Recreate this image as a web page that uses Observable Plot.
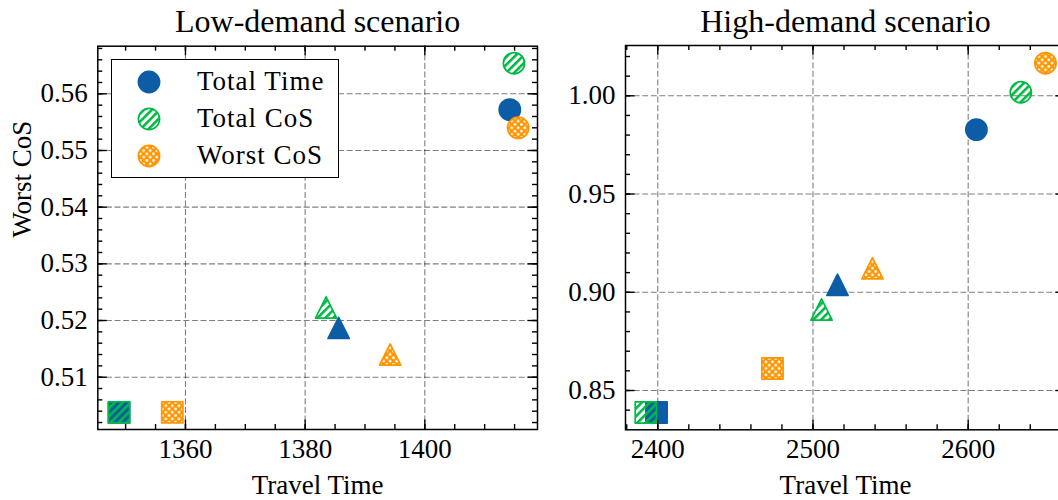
<!DOCTYPE html>
<html><head><meta charset="utf-8">
<script src="https://cdn.jsdelivr.net/npm/d3@7"></script>
<script src="https://cdn.jsdelivr.net/npm/@observablehq/plot@0.6"></script>
<style>
html,body{margin:0;padding:0;background:#fff;overflow:hidden;width:1058px;height:500px;}
#wrap{position:relative;width:1058px;height:500px;overflow:hidden;}
.panel{position:absolute;top:0;}
#legend{position:absolute;left:111px;top:59px;width:226px;height:117px;border:1.2px solid #000;background:#fff;font-family:'Liberation Serif','DejaVu Serif',serif;font-size:27px;letter-spacing:1px;}
#legend .row{position:absolute;left:0;height:30px;}
#legend svg{position:absolute;left:25px;top:3px;}
#legend span{position:absolute;left:85px;top:-1px;white-space:nowrap;line-height:30px;color:#000;}
</style></head><body>
<svg width="0" height="0" style="position:absolute">
  <defs>
    <pattern id="hatchG" patternUnits="userSpaceOnUse" width="5.6" height="5.6" patternTransform="rotate(45)">
      <rect x="0" y="0" width="2.6" height="5.6" fill="#00B945"></rect>
    </pattern>
    <pattern id="dotsO" patternUnits="userSpaceOnUse" width="6.6" height="6.6">
      <rect x="0" y="0" width="6.6" height="6.6" fill="#FF9500"></rect>
      <circle cx="0" cy="0" r="1.4" fill="#fff"></circle>
      <circle cx="6.6" cy="0" r="1.4" fill="#fff"></circle>
      <circle cx="0" cy="6.6" r="1.4" fill="#fff"></circle>
      <circle cx="6.6" cy="6.6" r="1.4" fill="#fff"></circle>
      <circle cx="3.3" cy="3.3" r="1.4" fill="#fff"></circle>
    </pattern>
  </defs>
</svg>
<div id="wrap"></div>
<script>
// ---------- data ----------
const methods = ["Total Time", "Total CoS", "Worst CoS"];
const shapes = ["circle", "triangle", "square"];

// Low-demand scenario (one value per shape: circle, triangle, square)
const lowTravel_TotalTime = [1414.2, 1385.6, 1348.9];
const lowWorst_TotalTime  = [0.5572, 0.5187, 0.5038];
const lowTravel_TotalCoS  = [1414.9, 1383.5, 1348.9];
const lowWorst_TotalCoS   = [0.5654, 0.5223, 0.5038];
const lowTravel_WorstCoS  = [1415.6, 1394.2, 1357.8];
const lowWorst_WorstCoS   = [0.5540, 0.5140, 0.5038];

// High-demand scenario
const highTravel_TotalTime = [2605.3, 2515.8, 2399.2];
const highWorst_TotalTime  = [0.9828, 0.9038, 0.8388];
const highTravel_TotalCoS  = [2633.9, 2505.5, 2392.3];
const highWorst_TotalCoS   = [1.0018, 0.8912, 0.8388];
const highTravel_WorstCoS  = [2649.8, 2538.3, 2473.9];
const highWorst_WorstCoS   = [1.0166, 0.9122, 0.8612];

// ticks
const lowXTicks = [1360, 1380, 1400];
const lowYTicks = [0.51, 0.52, 0.53, 0.54, 0.55, 0.56];
const highXTicks = [2400, 2500, 2600];
const highYTicks = [0.85, 0.90, 0.95, 1.00];

const titles = ["Low-demand scenario", "High-demand scenario"];
const xLabel = "Travel Time";
const yLabel = "Worst CoS";

// ---------- build ----------
function rows(travelArrs, worstArrs) {
  const out = [];
  methods.forEach((m, mi) => {
    shapes.forEach((s, si) => {
      out.push({method: m, shape: s, x: travelArrs[mi][si], y: worstArrs[mi][si]});
    });
  });
  return out;
}
const lowData = rows([lowTravel_TotalTime, lowTravel_TotalCoS, lowTravel_WorstCoS],
                     [lowWorst_TotalTime, lowWorst_TotalCoS, lowWorst_WorstCoS]);
const highData = rows([highTravel_TotalTime, highTravel_TotalCoS, highTravel_WorstCoS],
                      [highWorst_TotalTime, highWorst_TotalCoS, highWorst_WorstCoS]);

const FONT = "'Liberation Serif','DejaVu Serif',serif";
const sym = {
  circle: {draw(c, s) { const r = Math.sqrt(s / Math.PI); c.moveTo(r, 0); c.arc(0, 0, r, 0, 2 * Math.PI); c.closePath(); }},
  triangle: {draw(c, s) { const r = Math.sqrt(s / Math.PI); c.moveTo(0, -r); c.lineTo(r, r); c.lineTo(-r, r); c.closePath(); }},
  square: {draw(c, s) { const r = Math.sqrt(s / Math.PI); c.moveTo(-r, -r); c.lineTo(r, -r); c.lineTo(r, r); c.lineTo(-r, r); c.closePath(); }}
};
const style = {
  "Total Time": {fill: "#0C5DA5", stroke: "#0C5DA5"},
  "Total CoS": {fill: "url(#hatchG)", stroke: "#00B945"},
  "Worst CoS": {fill: "url(#dotsO)", stroke: "#FF9500"}
};

function panel(opts) {
  const {data, width, ml, mr, mt, mb, xDomain, yDomain, xTicks, yTicks, xMinor, yMinor, title, yFormat, showYLabel} = opts;
  const H = 500 - mt - mb, W = width - ml - mr;
  const tk = {stroke: "#000", strokeWidth: 1.4};
  const marks = [
    Plot.gridX(xTicks, {stroke: "#000", strokeOpacity: 0.5, strokeWidth: 1.1, strokeDasharray: "6,2.6"}),
    Plot.gridY(yTicks, {stroke: "#000", strokeOpacity: 0.5, strokeWidth: 1.1, strokeDasharray: "6,2.6"})
  ];
  for (const m of methods) {
    for (const s of shapes) {
      marks.push(Plot.dot(data.filter(d => d.method === m && d.shape === s), {
        x: "x", y: "y", symbol: sym[s], r: 10.6,
        fill: style[m].fill, stroke: style[m].stroke, strokeWidth: 1.7, strokeLinejoin: "round"
      }));
    }
  }
  marks.push(
    // minor ticks (inward, all sides)
    Plot.tickX(xMinor, {x: d => d, insetTop: H - 5, ...tk}),
    Plot.tickX(xMinor, {x: d => d, insetBottom: H - 5, ...tk}),
    Plot.tickY(yMinor, {y: d => d, insetRight: W - 5, ...tk}),
    Plot.tickY(yMinor, {y: d => d, insetLeft: W - 5, ...tk}),
    // major ticks
    Plot.tickX(xTicks, {x: d => d, insetTop: H - 9.5, ...tk}),
    Plot.tickX(xTicks, {x: d => d, insetBottom: H - 9.5, ...tk}),
    Plot.tickY(yTicks, {y: d => d, insetRight: W - 9.5, ...tk}),
    Plot.tickY(yTicks, {y: d => d, insetLeft: W - 9.5, ...tk}),
    Plot.frame({stroke: "#000", strokeWidth: 1.5}),
    Plot.axisX(xTicks, {tickSize: 0, tickPadding: 9, fontSize: 27, fill: "#000", tickFormat: d => String(d), label: null}),
    Plot.axisY(yTicks, {tickSize: 0, tickPadding: 10, fontSize: 27, fill: "#000", tickFormat: yFormat, label: null}),
    Plot.text([title], {text: d => d, frameAnchor: "top", lineAnchor: "bottom", dy: 31 - mt, fontSize: 32, fill: "#000"}),
    Plot.text([xLabel], {text: d => d, frameAnchor: "bottom", lineAnchor: "bottom", dy: 493 - (500 - mb), fontSize: 27, fill: "#000"})
  );
  if (showYLabel) {
    marks.push(Plot.text([yLabel], {text: d => d, frameAnchor: "left", lineAnchor: "middle", rotate: -90, dx: 21.5 - ml, fontSize: 27, fill: "#000"}));
  }
  return Plot.plot({
    width, height: 500,
    marginLeft: ml, marginRight: mr, marginTop: mt, marginBottom: mb,
    x: {domain: xDomain, axis: null, label: null},
    y: {domain: yDomain, axis: null, label: null},
    style: {fontFamily: FONT, background: "transparent", color: "#000", overflow: "visible"},
    marks
  });
}

const wrap = document.getElementById("wrap");

const left = panel({
  data: lowData, width: 560, ml: 97.3, mr: 23, mt: 45.7, mb: 71,
  xDomain: [1345.35, 1418.83], yDomain: [0.50077, 0.5684],
  xTicks: lowXTicks, yTicks: lowYTicks,
  xMinor: d3.range(1350, 1419, 5),
  yMinor: d3.range(251, 285).map(i => i * 0.002),
  title: titles[0], yFormat: d3.format(".2f"), showYLabel: true
});
left.classList.add("panel");
left.style.left = "0px";
wrap.appendChild(left);

const right = panel({
  data: highData, width: 520, ml: 65, mr: 15, mt: 45, mb: 70.7,
  xDomain: [2379.2, 2662.7], yDomain: [0.83, 1.0256],
  xTicks: highXTicks, yTicks: highYTicks,
  xMinor: d3.range(2380, 2661, 20),
  yMinor: d3.range(84, 103).map(i => i / 100),
  title: titles[1], yFormat: d3.format(".2f"), showYLabel: false
});
right.classList.add("panel");
right.style.left = "560px";
wrap.appendChild(right);

// ---------- legend ----------
const legend = document.createElement("div");
legend.id = "legend";
methods.forEach((m, i) => {
  const row = document.createElement("div");
  row.className = "row";
  row.style.top = (6.7 + i * 37.3) + "px";
  row.style.width = "100%";
  const sw = d3.create("svg").attr("width", 24).attr("height", 24);
  sw.append("circle").attr("cx", 12).attr("cy", 12).attr("r", 10.6)
    .attr("fill", style[m].fill).attr("stroke", style[m].stroke).attr("stroke-width", 1.7);
  row.appendChild(sw.node());
  const t = document.createElement("span");
  t.textContent = m;
  row.appendChild(t);
  legend.appendChild(row);
});
wrap.appendChild(legend);
</script>
</body></html>
